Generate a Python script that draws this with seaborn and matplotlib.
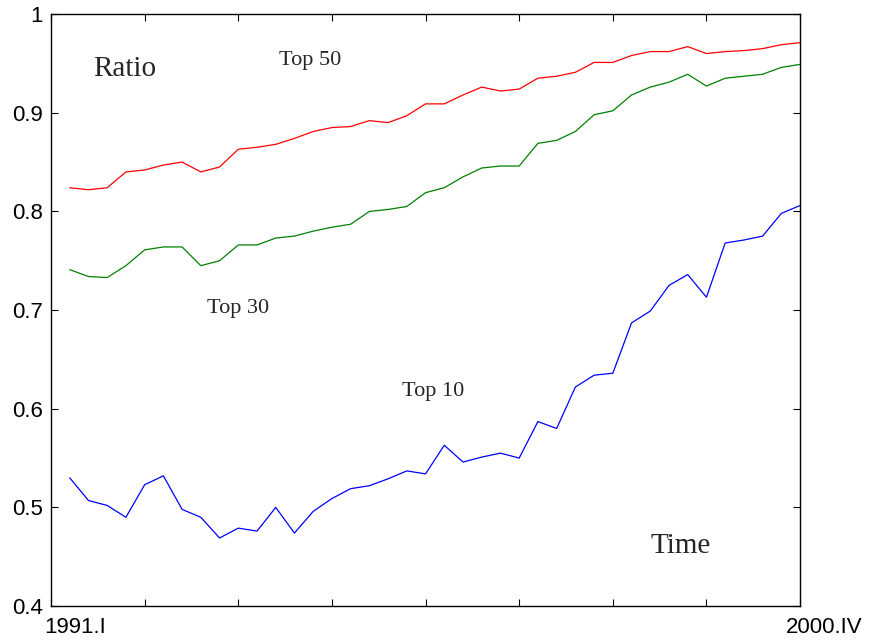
import numpy as np
import pandas as pd
import matplotlib
matplotlib.use('Agg')
import matplotlib.pyplot as plt
import matplotlib.transforms as mtransforms
import seaborn as sns

# quarterly ratios, 1991.I .. 2000.IV (40 quarters)
quarters = list(range(1, 41))
top50 = [0.824, 0.822, 0.824, 0.840, 0.842, 0.847, 0.850, 0.840, 0.845, 0.863,
         0.865, 0.868, 0.874, 0.881, 0.885, 0.886, 0.892, 0.890, 0.897, 0.909,
         0.909, 0.918, 0.926, 0.922, 0.924, 0.935, 0.937, 0.941, 0.951, 0.951,
         0.958, 0.962, 0.962, 0.967, 0.960, 0.962, 0.963, 0.965, 0.969, 0.971]
top30 = [0.741, 0.734, 0.733, 0.745, 0.761, 0.764, 0.764, 0.745, 0.750, 0.766,
         0.766, 0.773, 0.775, 0.780, 0.784, 0.787, 0.800, 0.802, 0.805, 0.819,
         0.824, 0.835, 0.844, 0.846, 0.846, 0.869, 0.872, 0.881, 0.898, 0.902,
         0.918, 0.926, 0.931, 0.939, 0.927, 0.935, 0.937, 0.939, 0.946, 0.949]
top10 = [0.530, 0.507, 0.502, 0.490, 0.523, 0.532, 0.498, 0.490, 0.469, 0.479,
         0.476, 0.500, 0.474, 0.496, 0.509, 0.519, 0.522, 0.529, 0.537, 0.534,
         0.563, 0.546, 0.551, 0.555, 0.550, 0.587, 0.580, 0.622, 0.634, 0.636,
         0.687, 0.699, 0.725, 0.736, 0.713, 0.768, 0.771, 0.775, 0.798, 0.806]
tick_pos = [0, 5, 10, 15, 20, 25, 30, 35, 40]
tick_labels = ['1991.I', '', '', '', '', '', '', '', '2000.IV']

df = pd.DataFrame({
    'quarter': quarters * 3,
    'ratio': top50 + top30 + top10,
    'group': ['Top 50'] * 40 + ['Top 30'] * 40 + ['Top 10'] * 40,
})

sns.set_style('ticks')
plt.rcParams['font.family'] = ['Liberation Sans', 'DejaVu Sans']
plt.rcParams['xtick.direction'] = 'in'
plt.rcParams['ytick.direction'] = 'in'

fig = plt.figure(figsize=(8.69, 6.40), dpi=100)
ax = fig.add_axes([0.0587, 0.053, 0.862, 0.925])

sns.lineplot(data=df, x='quarter', y='ratio', hue='group',
             palette={'Top 50': '#ff0000', 'Top 30': '#008000', 'Top 10': '#0000ff'},
             linewidth=0.9, legend=False, ax=ax)

ax.set_xlim(0, 40)
ax.set_ylim(0.4, 1.0)
ax.set_xticks(tick_pos)
ax.set_xticklabels(tick_labels)
ax.set_yticks([0.4, 0.5, 0.6, 0.7, 0.8, 0.9, 1.0])
ax.set_yticklabels(['0.4', '0.5', '0.6', '0.7', '0.8', '0.9', '1'])
ax.set_xlabel('')
ax.set_ylabel('')
ax.tick_params(axis='both', which='both', top=True, right=True, length=5,
               width=0.8, labelsize=16, colors='black', pad=6)
ax.tick_params(axis='x', pad=8)
for s in ax.spines.values():
    s.set_linewidth(1.0)
    s.set_color('black')

shift = mtransforms.ScaledTranslation(0.24, 0, fig.dpi_scale_trans)
for lab in ax.get_xticklabels():
    lab.set_transform(lab.get_transform() + shift)

serif = ['Liberation Serif', 'DejaVu Serif']
ax.text(3.96, 0.944, 'Ratio', family=serif, fontsize=21, ha='center', va='center')
ax.text(13.85, 0.953, 'Top 50', family=serif, fontsize=16, ha='center', va='center')
ax.text(10.0, 0.702, 'Top 30', family=serif, fontsize=16, ha='center', va='center')
ax.text(20.4, 0.617, 'Top 10', family=serif, fontsize=16, ha='center', va='center')
ax.text(33.6, 0.461, 'Time', family=serif, fontsize=21, ha='center', va='center')

fig.savefig('out.png', dpi=100)
